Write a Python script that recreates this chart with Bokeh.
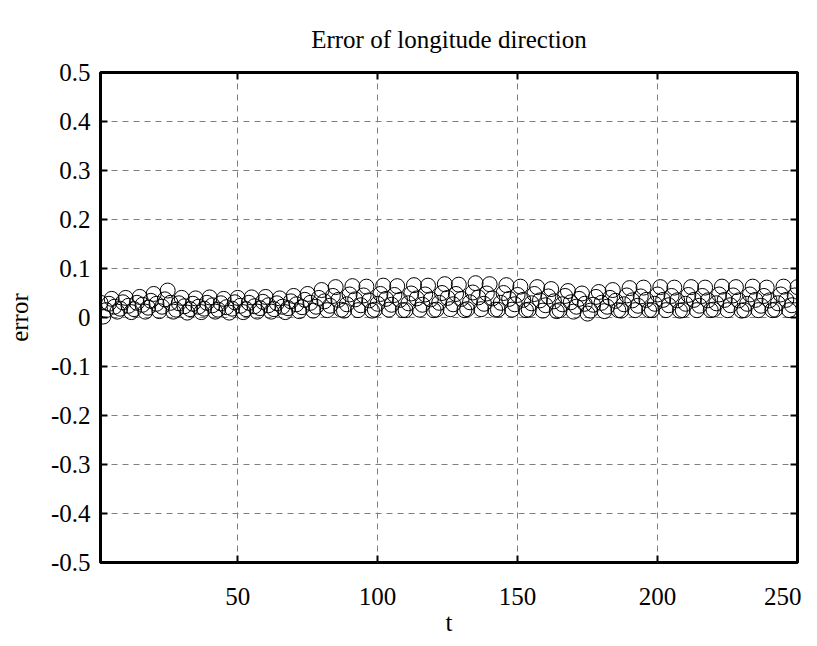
from bokeh.plotting import figure
from bokeh.models import Range1d, FixedTicker, LinearAxis
from bokeh.embed import file_html
from bokeh.resources import INLINE

# ---- data ----
t = list(range(1, 251))
err = [
    0.030, 0.002, 0.015, 0.028, 0.038, 0.022, 0.012, 0.018, 0.031, 0.040,
    0.024, 0.011, 0.017, 0.030, 0.042, 0.026, 0.012, 0.020, 0.034, 0.048,
    0.028, 0.013, 0.022, 0.037, 0.055, 0.030, 0.012, 0.016, 0.029, 0.040,
    0.023, 0.010, 0.017, 0.028, 0.039, 0.022, 0.011, 0.018, 0.030, 0.041,
    0.025, 0.012, 0.016, 0.029, 0.038, 0.021, 0.010, 0.018, 0.031, 0.040,
    0.024, 0.011, 0.017, 0.030, 0.041, 0.023, 0.012, 0.019, 0.032, 0.042,
    0.025, 0.012, 0.017, 0.029, 0.039, 0.022, 0.011, 0.019, 0.033, 0.044,
    0.027, 0.013, 0.021, 0.036, 0.048, 0.030, 0.014, 0.022, 0.040, 0.056,
    0.033, 0.015, 0.024, 0.044, 0.062, 0.036, 0.016, 0.014, 0.027, 0.047,
    0.064, 0.037, 0.015, 0.025, 0.045, 0.063, 0.035, 0.014, 0.016, 0.028,
    0.048, 0.065, 0.038, 0.016, 0.026, 0.046, 0.064, 0.036, 0.015, 0.015,
    0.029, 0.049, 0.066, 0.039, 0.016, 0.026, 0.047, 0.065, 0.037, 0.015,
    0.016, 0.030, 0.050, 0.068, 0.040, 0.017, 0.027, 0.048, 0.067, 0.038,
    0.015, 0.017, 0.031, 0.051, 0.070, 0.041, 0.017, 0.028, 0.049, 0.068,
    0.039, 0.016, 0.016, 0.030, 0.050, 0.066, 0.038, 0.016, 0.027, 0.046,
    0.063, 0.036, 0.015, 0.016, 0.029, 0.048, 0.062, 0.035, 0.014, 0.025,
    0.043, 0.058, 0.033, 0.013, 0.015, 0.027, 0.044, 0.054, 0.031, 0.012,
    0.022, 0.038, 0.049, 0.028, 0.008, 0.014, 0.026, 0.042, 0.052, 0.030,
    0.013, 0.022, 0.040, 0.056, 0.034, 0.015, 0.014, 0.027, 0.045, 0.060,
    0.035, 0.015, 0.024, 0.043, 0.061, 0.036, 0.015, 0.015, 0.028, 0.047,
    0.062, 0.036, 0.015, 0.025, 0.044, 0.061, 0.035, 0.014, 0.015, 0.028,
    0.046, 0.062, 0.036, 0.015, 0.024, 0.044, 0.061, 0.035, 0.015, 0.016,
    0.029, 0.047, 0.063, 0.036, 0.015, 0.025, 0.045, 0.062, 0.035, 0.014,
    0.015, 0.028, 0.047, 0.063, 0.036, 0.015, 0.024, 0.044, 0.061, 0.035,
    0.015, 0.016, 0.029, 0.047, 0.063, 0.036, 0.015, 0.025, 0.045, 0.062,
]
x_ticks = [50, 100, 150, 200, 250]
y_ticks = [-0.5, -0.4, -0.3, -0.2, -0.1, 0.0, 0.1, 0.2, 0.3, 0.4, 0.5]
y_tick_labels = ["-0.5", "-0.4", "-0.3", "-0.2", "-0.1", "0", "0.1", "0.2", "0.3", "0.4", "0.5"]
title_text = "Error of longitude direction"
x_label = "t"
y_label = "error"

FONT = "Liberation Serif"

p = figure(width=801, height=640, output_backend="svg", toolbar_location=None,
           x_range=Range1d(1, 250), y_range=Range1d(-0.5, 0.5),
           title=title_text,
           min_border_left=100, min_border_right=4, min_border_top=72, min_border_bottom=78)

p.title.text_font = FONT
p.title.text_font_size = "25px"
p.title.text_font_style = "normal"
p.title.align = "center"
p.title.text_color = "black"
p.title.standoff = 39

p.outline_line_color = "black"
p.outline_line_width = 3
p.outline_line_alpha = 1.0
p.background_fill_color = "white"
p.border_fill_color = "white"

p.scatter(t, err, marker="circle", size=15, fill_color=None,
          line_color="black", line_width=1)

# axes
p.xaxis.ticker = FixedTicker(ticks=x_ticks)
p.yaxis.ticker = FixedTicker(ticks=y_ticks)
p.yaxis.major_label_overrides = {v: s for v, s in zip(y_ticks, y_tick_labels)}
for ax in (p.xaxis[0], p.yaxis[0]):
    ax.axis_line_color = None
    ax.major_tick_in = 7
    ax.major_tick_out = 0
    ax.major_tick_line_width = 2
    ax.major_tick_line_color = "black"
    ax.minor_tick_line_color = None
    ax.major_label_text_font = FONT
    ax.major_label_text_font_size = "25px"
    ax.major_label_text_color = "black"
    ax.axis_label_text_font = FONT
    ax.axis_label_text_font_size = "25px"
    ax.axis_label_text_font_style = "normal"
    ax.axis_label_text_color = "black"
p.xaxis.axis_label = x_label
p.yaxis.axis_label = y_label
p.xaxis.major_label_standoff = 25
p.xaxis.axis_label_standoff = 1
p.yaxis.major_label_standoff = 10
p.yaxis.axis_label_standoff = 15

# mirrored tick marks (box)
right = LinearAxis(ticker=FixedTicker(ticks=y_ticks),
                   major_label_overrides={v: "" for v in y_ticks},
                   axis_line_color=None, major_tick_in=7, major_tick_out=0,
                   major_tick_line_width=2, minor_tick_line_color=None)
top = LinearAxis(ticker=FixedTicker(ticks=x_ticks),
                 major_label_overrides={v: "" for v in x_ticks},
                 axis_line_color=None, major_tick_in=7, major_tick_out=0,
                 major_tick_line_width=2, minor_tick_line_color=None)
p.add_layout(right, "right")
p.add_layout(top, "above")

p.grid.grid_line_color = "#7f7f7f"
p.grid.grid_line_dash = "6 5"
p.grid.grid_line_width = 1
p.xgrid.ticker = FixedTicker(ticks=x_ticks)
p.ygrid.ticker = FixedTicker(ticks=y_ticks)

open("out.html", "w").write(file_html(p, INLINE))
